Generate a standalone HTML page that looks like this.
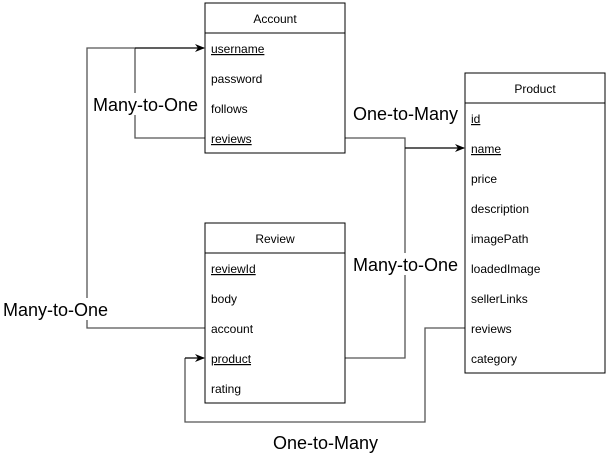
<!DOCTYPE html>
<html><head><meta charset="utf-8"><style>
html,body{margin:0;padding:0;background:#fff;}
svg{display:block;font-family:"Liberation Sans",Arial,sans-serif;}
.t{font-size:12px;fill:#000;}
.l{font-size:18px;fill:#000;}
.c{fill:none;stroke:#555;stroke-width:1.3;}
</style></head><body>
<svg width="609" height="458" viewBox="0 0 609 458">
<defs><marker id="a" markerWidth="10" markerHeight="8" refX="9" refY="4" orient="auto" markerUnits="userSpaceOnUse"><path d="M0,0 L10,4 L0,8 L3,4 z" fill="#000"/></marker></defs>
<polyline class="c" points="205,138 135,138 135,48"/>
<polyline class="c" points="205,328 87,328 87,48 135,48"/>
<line x1="135" y1="48" x2="204" y2="48" stroke="#000" stroke-width="1.3" marker-end="url(#a)"/>
<polyline class="c" points="345,138 405,138 405,358 345,358"/>
<line x1="405" y1="148" x2="464" y2="148" stroke="#000" stroke-width="1.3" marker-end="url(#a)"/>
<polyline class="c" points="465,328 425,328 425,422 185,422 185,358"/>
<line x1="185" y1="358" x2="204" y2="358" stroke="#000" stroke-width="1.3" marker-end="url(#a)"/>
<rect x="92" y="93" width="108" height="22" fill="#fff"/>
<text class="l" x="93" y="111">Many-to-One</text>
<rect x="2" y="298" width="108" height="22" fill="#fff"/>
<text class="l" x="3" y="316">Many-to-One</text>
<text class="l" x="353" y="120">One-to-Many</text>
<rect x="352" y="253" width="108" height="22" fill="#fff"/>
<text class="l" x="353" y="271">Many-to-One</text>
<text class="l" x="273" y="449">One-to-Many</text>
<rect x="205" y="3" width="140" height="150" fill="#fff" stroke="#000"/>
<line x1="205" y1="33" x2="345" y2="33" stroke="#000"/>
<text class="t" x="275" y="23" text-anchor="middle">Account</text>
<text class="t" x="211" y="53" text-decoration="underline">username</text>
<text class="t" x="211" y="83">password</text>
<text class="t" x="211" y="113">follows</text>
<text class="t" x="211" y="143" text-decoration="underline">reviews</text>
<rect x="205" y="223" width="140" height="180" fill="#fff" stroke="#000"/>
<line x1="205" y1="253" x2="345" y2="253" stroke="#000"/>
<text class="t" x="275" y="243" text-anchor="middle">Review</text>
<text class="t" x="211" y="273" text-decoration="underline">reviewId</text>
<text class="t" x="211" y="303">body</text>
<text class="t" x="211" y="333">account</text>
<text class="t" x="211" y="363" text-decoration="underline">product</text>
<text class="t" x="211" y="393">rating</text>
<rect x="465" y="73" width="140" height="300" fill="#fff" stroke="#000"/>
<line x1="465" y1="103" x2="605" y2="103" stroke="#000"/>
<text class="t" x="535" y="93" text-anchor="middle">Product</text>
<text class="t" x="471" y="123" text-decoration="underline">id</text>
<text class="t" x="471" y="153" text-decoration="underline">name</text>
<text class="t" x="471" y="183">price</text>
<text class="t" x="471" y="213">description</text>
<text class="t" x="471" y="243">imagePath</text>
<text class="t" x="471" y="273">loadedImage</text>
<text class="t" x="471" y="303">sellerLinks</text>
<text class="t" x="471" y="333">reviews</text>
<text class="t" x="471" y="363">category</text>
</svg>
</body></html>
